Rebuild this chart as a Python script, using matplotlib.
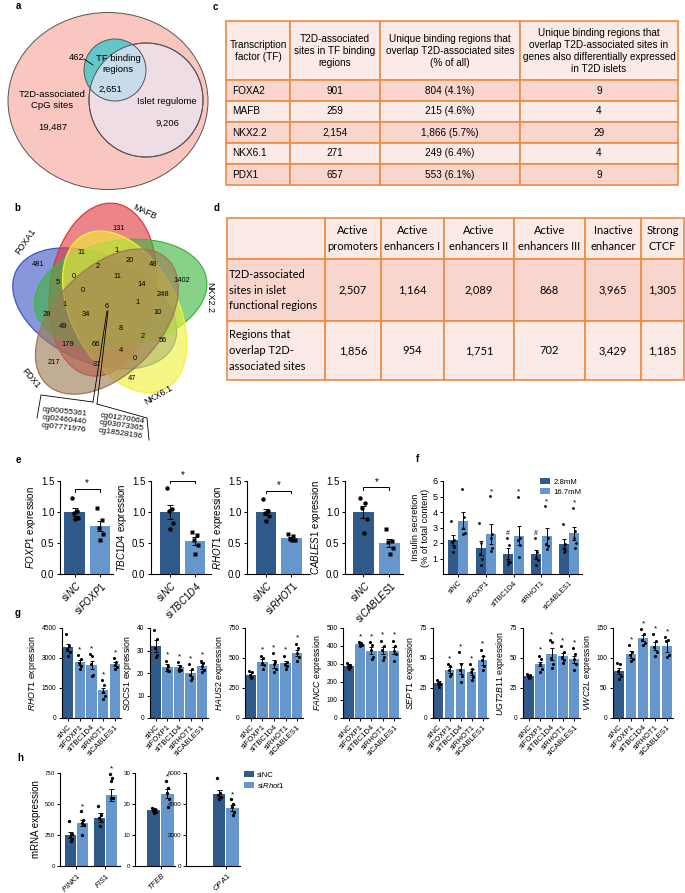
import numpy as np
import matplotlib.pyplot as plt
from matplotlib.patches import Circle, Ellipse, Patch

plt.rcParams['font.family'] = ['Liberation Sans', 'DejaVu Sans']
plt.rcParams['mathtext.fontset'] = 'custom'
plt.rcParams['mathtext.rm'] = 'Liberation Sans'
plt.rcParams['mathtext.it'] = 'Liberation Sans:italic'
plt.rcParams['axes.linewidth'] = 0.8
plt.rcParams['axes.facecolor'] = 'none'

W, H = 685, 893
DARK = '#2f5a8a'
LIGHT = '#6596cc'

# ---------------- data ----------------
# a: nested venn
a_labels = ['T2D-associated\nCpG sites', 'TF binding\nregions', 'Islet regulome']
a_counts = ['19,487', '462', '2,651', '9,206']

# b: five-set venn
b_sets = ['FOXA1', 'MAFB', 'NKX2.2', 'NKX6.1', 'PDX1']
b_colors = ['#3f57c4', '#e03a3e', '#3fb53f', '#f2f23a', '#9c7b55']
b_counts = [481, 11, 131, 1, 20, 48, 1402, 2, 0, 5, 11, 14, 0, 248, 1, 6, 1, 10,
            28, 34, 8, 49, 2, 56, 179, 66, 4, 0, 31, 217, 47]
cg_left = ['cg00055361', 'cg02460440', 'cg07771976']
cg_right = ['cg01270064', 'cg03073365', 'cg18528196']

# c: TF table
c_header = ['Transcription\nfactor (TF)',
            'T2D-associated\nsites in TF binding\nregions',
            'Unique binding regions that\noverlap T2D-associated sites\n(% of all)',
            'Unique binding regions that\noverlap T2D-associated sites in\ngenes also differentially expressed\nin T2D islets']
c_tf = ['FOXA2', 'MAFB', 'NKX2.2', 'NKX6.1', 'PDX1']
c_sites = ['901', '259', '2,154', '271', '657']
c_unique = ['804 (4.1%)', '215 (4.6%)', '1,866 (5.7%)', '249 (6.4%)', '553 (6.1%)']
c_de = ['9', '4', '29', '4', '9']

# d: functional regions table
d_cols = ['Active\npromoters', 'Active\nenhancers I', 'Active\nenhancers II',
          'Active\nenhancers III', 'Inactive\nenhancer', 'Strong\nCTCF']
d_rows = ['T2D-associated\nsites in islet\nfunctional regions',
          'Regions that\noverlap T2D-\nassociated sites']
d_sites = ['2,507', '1,164', '2,089', '868', '3,965', '1,305']
d_regions = ['1,856', '954', '1,751', '702', '3,429', '1,185']

# e: knockdown efficiency
e_genes = ['FOXP1', 'TBC1D4', 'RHOT1', 'CABLES1']
e_mean_nc = [1.0, 1.0, 1.0, 1.0]
e_sem_nc = [0.06, 0.11, 0.05, 0.10]
e_mean_si = [0.77, 0.53, 0.58, 0.50]
e_sem_si = [0.08, 0.06, 0.02, 0.06]
e_pts_nc = [[1.22, 1.02, 0.98, 0.90, 0.88], [1.38, 1.05, 1.02, 0.82, 0.73],
            [1.21, 1.02, 0.98, 0.93, 0.86], [1.23, 1.15, 1.07, 0.89, 0.66]]
e_pts_si = [[1.07, 0.87, 0.74, 0.64, 0.55], [0.68, 0.63, 0.55, 0.47, 0.32],
            [0.64, 0.62, 0.57, 0.55, 0.55], [0.72, 0.54, 0.52, 0.42, 0.32]]
e_bracket = [1.37, 1.50, 1.34, 1.40]

# f: insulin secretion
f_groups = ['siNC', 'siFOXP1', 'siTBC1D4', 'siRHOT1', 'siCABLES1']
f_low = [2.18, 1.65, 1.30, 1.27, 1.95]
f_low_sem = [0.32, 0.45, 0.35, 0.28, 0.33]
f_high = [3.45, 2.60, 2.48, 2.42, 2.62]
f_high_sem = [0.52, 0.65, 0.64, 0.52, 0.43]
f_low_pts = [[3.42, 2.2, 2.05, 1.75, 1.45], [3.3, 2.0, 1.3, 1.0, 0.6], [2.3, 1.85, 0.85, 0.75, 0.65],
             [2.3, 1.45, 1.1, 0.9, 0.55], [3.25, 1.95, 1.65, 1.5, 1.45]]
f_high_pts = [[5.48, 3.7, 3.0, 2.65, 2.6], [5.05, 2.55, 2.3, 1.65, 1.5], [5.0, 2.3, 2.2, 1.9, 1.1],
              [4.4, 2.35, 1.95, 1.8, 1.6], [4.28, 2.8, 2.35, 2.0, 1.65]]

# g: target genes
g_genes = ['RHOT1', 'SOCS1', 'HAUS2', 'FANCC', 'SEPT1', 'UGT2B11', 'VWC2L']
g_ymax = [4500, 40, 750, 500, 75, 75, 150]
g_step = [1500, 10, 250, 100, 25, 25, 50]
g_means = [[3530, 2780, 2650, 1380, 2690], [32, 22.5, 22.5, 20, 23], [360, 465, 450, 455, 545],
           [290, 410, 375, 375, 375], [29, 40, 41, 38, 48], [35, 45, 53, 52, 49],
           [79, 106, 133, 120, 120]]
g_sems = [[170, 130, 180, 130, 90], [2.5, 1.5, 1.0, 1.3, 1.3], [20, 25, 30, 20, 25],
          [10, 8, 18, 20, 20], [1.5, 2.5, 4.5, 2.5, 4], [1, 2, 5, 2.5, 3],
          [5, 6, 5, 6, 10]]
g_pts = [
    [[4200, 3600, 3450, 3300, 3100], [3150, 2950, 2750, 2600, 2450], [3200, 3100, 2700, 2150, 2100],
     [1900, 1650, 1300, 1100, 950], [3000, 2800, 2650, 2550, 2450]],
    [[39, 35, 31, 28, 27], [25.5, 23, 22, 21, 21], [25, 23, 22, 21.5, 21], [24, 22, 19, 18, 17],
     [25.5, 24.5, 23, 21.5, 20.5]],
    [[395, 380, 355, 340, 330], [520, 500, 460, 440, 405], [540, 470, 450, 410, 380],
     [520, 470, 450, 430, 405], [620, 580, 540, 510, 475]],
    [[305, 295, 290, 285, 275], [420, 415, 410, 405, 400], [420, 405, 380, 340, 330],
     [430, 400, 380, 340, 325], [430, 400, 375, 355, 315]],
    [[32, 30, 29, 28, 26], [45, 43, 40, 37, 35], [55, 45, 40, 35, 30], [45, 41, 38, 34, 32],
     [57, 52, 48, 43, 40]],
    [[37, 36, 35, 34, 33], [52, 49, 45, 41, 38], [65, 63, 50, 45, 42], [60, 55, 51, 48, 46],
     [58, 53, 49, 45, 40]],
    [[92, 90, 78, 70, 65], [122, 110, 105, 98, 95], [148, 140, 130, 125, 122],
     [140, 128, 118, 110, 104], [135, 130, 128, 105, 102]],
]

# h: mitochondrial genes after siRhot1
h_genes = [['PINK1', 'FIS1'], ['TFEB'], ['OPA1']]
h_ymax = [750, 30, 6000]
h_step = [250, 10, 2000]
h_nc = [[252, 390], [18.0], [4650]]
h_nc_sem = [[25, 35], [0.5], [250]]
h_si = [[345, 572], [23.3], [3750]]
h_si_sem = [[25, 50], [1.4], [200]]
h_nc_pts = [[[360, 255, 235, 215, 200], [485, 410, 385, 360, 320]], [[18.6, 18.4, 18.0, 17.5, 17.2]],
            [[5650, 4700, 4550, 4450, 4300]]]
h_si_pts = [[[440, 370, 345, 330, 250], [745, 710, 685, 550, 545]], [[27.3, 25.2, 23.5, 21.5, 19.1]],
            [[4310, 4030, 3810, 3490, 3280]]]

# ---------------- figure ----------------
fig = plt.figure(figsize=(W / 100, H / 100), dpi=100)


def px(x0, y0, x1, y1):
    return [x0 / W, 1 - y1 / H, (x1 - x0) / W, (y1 - y0) / H]


ax0 = fig.add_axes([0, 0, 1, 1])
ax0.set_xlim(0, W)
ax0.set_ylim(H, 0)
ax0.axis('off')

for lab, (x, y) in zip('abcdefgh', [(18, 6), (17, 208), (215, 7), (217, 208), (18, 460),
                                     (418, 459), (18, 613), (20, 758)]):
    ax0.text(x, y, lab, fontsize=7, fontweight='bold', ha='center', va='center')

# panel a
big = Ellipse((108, 101), 200, 177, fc='#f9c6c0', ec='#555555', lw=0.7)
ax0.add_patch(big)
islet = Circle((146, 100), 57, fc='#efdde6', ec='#555555', lw=0.7)
ax0.add_patch(islet)
ax0.add_patch(Circle((115, 70), 31, fc='#63c7c9', ec='none'))
ov = Circle((115, 70), 31, fc='#c6dcea', ec='none')
ax0.add_patch(ov)
ov.set_clip_path(islet)
ax0.add_patch(Circle((146, 100), 57, fill=False, ec='#555555', lw=0.7))
ax0.add_patch(Circle((115, 70), 31, fill=False, ec='#555555', lw=0.7))
fa = 6.8
ax0.text(52, 100, a_labels[0], fontsize=fa, ha='center', va='center', linespacing=1.3)
ax0.text(53, 127, a_counts[0], fontsize=fa, ha='center', va='center')
ax0.text(77, 58, a_counts[1], fontsize=fa, ha='center', va='center')
ax0.plot([84, 93], [59, 65], color='k', lw=0.6)
ax0.text(118, 64, a_labels[1], fontsize=fa, ha='center', va='center', linespacing=1.3)
ax0.text(110, 89, a_counts[2], fontsize=fa, ha='center', va='center')
ax0.text(167, 101, a_labels[2], fontsize=fa, ha='center', va='center')
ax0.text(167, 123, a_counts[3], fontsize=fa, ha='center', va='center')

# panel b: five rotated ellipses
cx, cy, s = 110, 305, 200
ell_uv = [(0.428, 0.449, 155), (0.469, 0.543, 82), (0.558, 0.523, 10),
          (0.578, 0.432, 118), (0.489, 0.383, 46)]
for (u, v, ang), col in zip(ell_uv, b_colors):
    ax0.add_patch(Ellipse((cx + s * (u - 0.5045), cy - s * (v - 0.466)), 0.87 * s, 0.53 * s,
                          angle=-ang, fc=col, alpha=0.62, ec='none'))
    ax0.add_patch(Ellipse((cx + s * (u - 0.5045), cy - s * (v - 0.466)), 0.87 * s, 0.53 * s,
                          angle=-ang, fill=False, ec=col, lw=0.9))
b_xy = [(38, 265), (81, 252), (119, 228), (117, 250), (130, 261), (153, 264), (182, 280), (98, 266),
        (74, 276), (58, 283), (117, 277), (142, 284), (83, 290), (163, 295), (65, 304), (107, 307),
        (138, 302), (158, 313), (47, 314), (86, 314), (121, 328), (63, 327), (143, 336), (163, 340),
        (68, 345), (96, 344), (121, 350), (135, 358), (97, 365), (54, 363), (132, 379)]
for n, (x, y) in zip(b_counts, b_xy):
    ax0.text(x, y, str(n), fontsize=5.4, ha='center', va='center')
for name, (x, y), rot in zip(b_sets, [(26, 242), (145, 212), (210, 297), (158, 395), (31, 378)],
                             [55, -25, -90, 30, -50]):
    ax0.text(x, y, name, fontsize=6.5, ha='center', va='center', rotation=rot)
ax0.plot([107, 93], [311, 402], color='k', lw=0.6)
ax0.plot([108, 97], [311, 404], color='k', lw=0.6)
ax0.plot([93, 41, 37], [402, 395, 418], color='k', lw=0.6)
ax0.plot([97, 147, 149], [404, 418, 440], color='k', lw=0.6)
ax0.text(64, 420, '\n'.join(cg_left), fontsize=5.9, ha='center', va='center', rotation=-6,
         linespacing=1.15)
ax0.text(121, 426, '\n'.join(cg_right), fontsize=5.9, ha='center', va='center', rotation=-8,
         linespacing=1.15)

ORANGE = '#ef8a43'
PALE = '#fbeae5'
DEEP = '#f8d6cd'

# panel c table
axc = fig.add_axes(px(226, 21, 678, 185))
axc.axis('off')
c_cells = [c_header] + [list(r) for r in zip(c_tf, c_sites, c_unique, c_de)]
tc = axc.table(cellText=c_cells, colWidths=[64, 90, 140, 158], cellLoc='center', bbox=[0, 0, 1, 1])
tc.auto_set_font_size(False)
for (r, c), cell in tc.get_celld().items():
    cell.set_edgecolor(ORANGE)
    cell.set_linewidth(1.2)
    cell.set_height(59 if r == 0 else 21)
    cell.set_facecolor(PALE if r == 0 or r % 2 == 0 else DEEP)
    cell.get_text().set_fontsize(7.2)
    cell.get_text().set_linespacing(1.25)
    if c == 0 and r > 0:
        cell.get_text().set_ha('left')

# panel d table
axd = fig.add_axes(px(227, 218, 684, 380))
axd.axis('off')
d_cells = [[''] + d_cols, [d_rows[0]] + d_sites, [d_rows[1]] + d_regions]
td = axd.table(cellText=d_cells, colWidths=[98, 56, 63, 70, 71, 56, 43], cellLoc='center',
               bbox=[0, 0, 1, 1])
td.auto_set_font_size(False)
for (r, c), cell in td.get_celld().items():
    cell.set_edgecolor(ORANGE)
    cell.set_linewidth(1.2)
    cell.set_height([41, 62, 59][r])
    cell.set_facecolor(DEEP if r == 1 else PALE)
    t = cell.get_text()
    t.set_fontsize(8)
    t.set_fontfamily('Lato')
    t.set_linespacing(1.55)
    if c == 0:
        t.set_ha('left')
        cell.PAD = 0.02


def despine(ax, fs):
    for sp in ['top', 'right']:
        ax.spines[sp].set_visible(False)
    ax.tick_params(labelsize=fs, length=2.5, width=0.7, pad=1.5)


def err(ax, x, m, e, cap=2.0):
    ax.errorbar(x, m, yerr=e, fmt='none', ecolor='k', elinewidth=0.7, capsize=cap,
                capthick=0.7, zorder=3)


def dots(ax, x, vals, marker, ms, spread):
    offs = spread * np.array([-0.9, 0.6, -0.3, 1.0, 0.1, -0.6])[:len(vals)]
    ax.plot(x + offs, vals, ls='none', marker=marker, ms=ms, color='k', mec='none', zorder=4,
            clip_on=False)


# panel e
e_x = [(60, 113), (151, 211), (247, 310), (345, 403)]
e_xlim = [(-0.57, 1.51), (-0.76, 1.64), (-0.75, 1.73), (-0.71, 1.52)]
for i, g in enumerate(e_genes):
    ax = fig.add_axes(px(e_x[i][0], 481, e_x[i][1], 574))
    ax.bar([0, 1], [e_mean_nc[i], e_mean_si[i]], width=0.82, color=[DARK, LIGHT])
    err(ax, [0, 1], [e_mean_nc[i], e_mean_si[i]], [e_sem_nc[i], e_sem_si[i]], cap=2.5)
    dots(ax, 0, e_pts_nc[i], 'o', 3.2, 0.13)
    dots(ax, 1, e_pts_si[i], 's', 3.0, 0.13)
    b = e_bracket[i]
    ax.plot([0, 0, 1, 1], [b - 0.04, b, b, b - 0.04], color='k', lw=0.7, clip_on=False)
    ax.text(0.5, b + 0.01, '*', ha='center', va='bottom', fontsize=7)
    ax.set_xlim(*e_xlim[i])
    ax.set_ylim(0, 1.5)
    ax.set_yticks([0, 0.5, 1.0, 1.5])
    ax.set_yticklabels(['0.0', '0.5', '1.0', '1.5'])
    ax.set_xticks([0, 1])
    ax.set_xticklabels(['si$\\mathit{NC}$', 'si$\\mathit{' + g + '}$'], rotation=45, ha='right',
                       rotation_mode='anchor')
    ax.set_ylabel('$\\mathit{' + g + '}$ expression', fontsize=7, labelpad=2)
    despine(ax, 7)

# panel f
axf = fig.add_axes(px(443, 481, 582, 574))
gx = np.arange(len(f_groups))
axf.bar(gx - 0.19, f_low, width=0.36, color=DARK, label='2.8mM')
axf.bar(gx + 0.19, f_high, width=0.36, color=LIGHT, label='16.7mM')
err(axf, gx - 0.19, f_low, f_low_sem, cap=1.5)
err(axf, gx + 0.19, f_high, f_high_sem, cap=1.5)
for i in range(len(f_groups)):
    dots(axf, gx[i] - 0.19, f_low_pts[i], 'o', 2.0, 0.05)
    dots(axf, gx[i] + 0.19, f_high_pts[i], 'o', 2.0, 0.05)
    if i > 0:
        axf.text(gx[i] + 0.19, max(f_high_pts[i]) + 0.05, '*', ha='center', va='bottom', fontsize=6)
    if i in (2, 3):
        axf.text(gx[i] - 0.19, max(f_low_pts[i]) + 0.1, '#', ha='center', va='bottom', fontsize=5)
axf.set_xlim(-0.54, 4.46)
axf.set_ylim(0, 6)
axf.set_yticks(range(1, 7))
axf.set_xticks(gx)
axf.set_xticklabels(f_groups, rotation=45, ha='right', rotation_mode='anchor', fontsize=5.2)
axf.set_ylabel('Insulin secretion\n(% of total content)', fontsize=6.7, labelpad=2, linespacing=1.1)
despine(axf, 6.5)
axf.tick_params(axis='x', labelsize=5.2)
axf.legend(loc='upper left', bbox_to_anchor=(0.67, 1.07), frameon=False, fontsize=5.6,
           handlelength=1.3, handleheight=0.8, labelspacing=0.25, handletextpad=0.4, borderpad=0)

# panel g
g_x = [(62, 121), (150, 208), (245, 303), (343, 400), (433, 488), (523, 580), (613, 673)]
for i, g in enumerate(g_genes):
    ax = fig.add_axes(px(g_x[i][0], 628, g_x[i][1], 718))
    xs = np.arange(5)
    ax.bar(xs, g_means[i], width=0.88, color=[DARK] + [LIGHT] * 4)
    err(ax, xs, g_means[i], g_sems[i], cap=1.6)
    for j in range(5):
        dots(ax, xs[j], g_pts[i][j], 'o', 2.2, 0.14)
        if j > 0:
            ax.text(xs[j], max(g_pts[i][j]) + 0.02 * g_ymax[i], '*', ha='center', va='bottom',
                    fontsize=6)
    ax.set_xlim(-0.5, 4.5)
    ax.set_ylim(0, g_ymax[i])
    ax.set_yticks(np.arange(0, g_ymax[i] + 1, g_step[i]))
    ax.set_xticks(xs)
    ax.set_xticklabels(f_groups, rotation=45, ha='right', rotation_mode='anchor')
    ax.set_ylabel('$\\mathit{' + g + '}$ expression', fontsize=6.3, labelpad=2)
    despine(ax, 4.8)
    ax.tick_params(axis='x', labelsize=5.6)

# panel h
h_x = [(60, 120), (135, 175), (186, 240)]
h_xlim = [(-0.56, 1.5), (-0.87, 0.49), (-1.36, 0.49)]
h_off = [0.2, 0.23, 0.23]
h_w = [0.38, 0.44, 0.44]
for i in range(3):
    ax = fig.add_axes(px(h_x[i][0], 773, h_x[i][1], 866))
    xs = np.arange(len(h_genes[i]))
    o = h_off[i]
    ax.bar(xs - o, h_nc[i], width=h_w[i], color=DARK, label='siNC')
    ax.bar(xs + o, h_si[i], width=h_w[i], color=LIGHT, label='si$\\mathit{Rhot1}$')
    err(ax, xs - o, h_nc[i], h_nc_sem[i], cap=1.8)
    err(ax, xs + o, h_si[i], h_si_sem[i], cap=1.8)
    for j in range(len(xs)):
        dots(ax, xs[j] - o, h_nc_pts[i][j], 'o', 2.4, 0.06)
        dots(ax, xs[j] + o, h_si_pts[i][j], 'o', 2.4, 0.06)
        ax.text(xs[j] + o, max(h_si_pts[i][j]) + 0.01 * h_ymax[i], '*', ha='center', va='bottom',
                fontsize=6)
    ax.set_xlim(*h_xlim[i])
    ax.set_ylim(0, h_ymax[i])
    ax.set_yticks(np.arange(0, h_ymax[i] + 1, h_step[i]))
    ax.set_xticks(xs)
    ax.set_xticklabels(['$\\mathit{' + g + '}$' for g in h_genes[i]], rotation=45, ha='right',
                       rotation_mode='anchor')
    despine(ax, 4.4)
    ax.tick_params(axis='y', pad=1)
    ax.tick_params(axis='x', labelsize=5.5, pad=1)
    if i == 0:
        ax.set_ylabel('mRNA expression', fontsize=7, labelpad=3)
    if i == 2:
        ax.legend(loc='upper left', bbox_to_anchor=(1.0, 1.06), frameon=False, fontsize=5.6,
                  handlelength=1.3, handleheight=0.8, labelspacing=0.25, handletextpad=0.4,
                  borderpad=0)

fig.savefig('out.png', dpi=100)
